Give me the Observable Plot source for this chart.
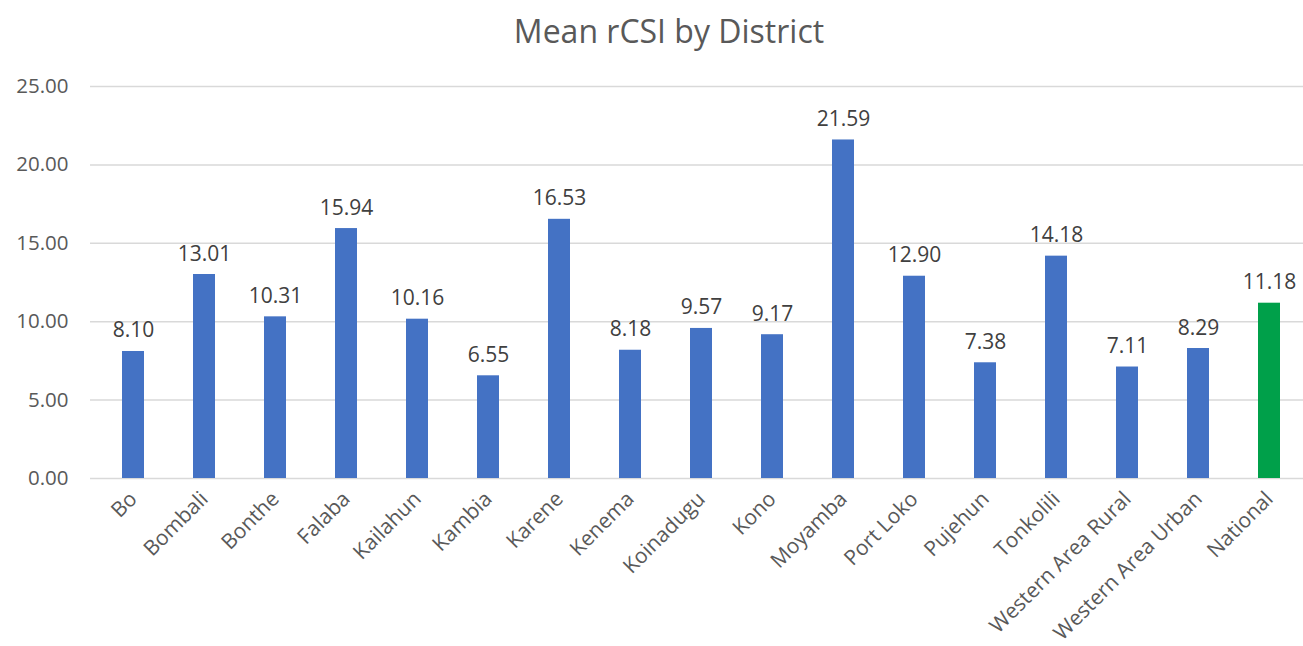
<!DOCTYPE html>
<html>
<head>
<meta charset="utf-8">
<script src="https://cdn.jsdelivr.net/npm/d3@7"></script>
<script src="https://cdn.jsdelivr.net/npm/@observablehq/plot@0.6"></script>
<style>
  html, body { margin: 0; padding: 0; background: #fff; }
  #wrap { width: 1303px; height: 646px; overflow: hidden; font-family: "Open Sans", sans-serif; }
  #title { height: 60px; margin: 0; padding-left: 35px; box-sizing: border-box; text-align: center; font-size: 32px; font-weight: 400; color: #595959; line-height: 62px; }
</style>
</head>
<body>
<div id="wrap">
  <div id="title">Mean rCSI by District</div>
  <div id="chart"></div>
</div>
<script>
const districts = ["Bo","Bombali","Bonthe","Falaba","Kailahun","Kambia","Karene","Kenema","Koinadugu","Kono","Moyamba","Port Loko","Pujehun","Tonkolili","Western Area Rural","Western Area Urban","National"];
const values = [8.10,13.01,10.31,15.94,10.16,6.55,16.53,8.18,9.57,9.17,21.59,12.90,7.38,14.18,7.11,8.29,11.18];
const groups = ["District","District","District","District","District","District","District","District","District","District","District","District","District","District","District","District","National"];
const yTicks = [0,5,10,15,20,25];

const data = districts.map((d, i) => ({district: d, value: values[i], group: groups[i]}));

const chart = Plot.plot({
  width: 1303,
  height: 586,
  marginLeft: 90,
  marginRight: 0,
  marginTop: 26,
  marginBottom: 168,
  style: {fontFamily: "Open Sans, sans-serif", fontSize: "20px", color: "#595959", background: "#fff"},
  x: {domain: districts, range: [90, 1312], paddingInner: 0.69, paddingOuter: 0.345, label: null},
  y: {domain: [0, 25], label: null},
  color: {domain: ["District","National"], range: ["#4472C4","#00A04A"]},
  marks: [
    Plot.ruleY(yTicks, {stroke: "#d9d9d9", strokeWidth: 1.5}),
    Plot.axisY({ticks: yTicks, tickFormat: d3.format(".2f"), tickSize: 0, tickPadding: 22, fill: "#595959", fontSize: 20.5, label: null}),
    Plot.axisX({tickRotate: -45, tickSize: 0, tickPadding: 17, fill: "#595959", fontSize: 21, label: null}),
    Plot.barY(data, {x: "district", y: "value", fill: "group"}),
    Plot.text(data, {x: "district", y: "value", text: d => d3.format(".2f")(d.value), dy: -14, lineAnchor: "bottom", fill: "#404040", fontSize: 21})
  ]
});
document.getElementById("chart").appendChild(chart);
</script>
</body>
</html>
